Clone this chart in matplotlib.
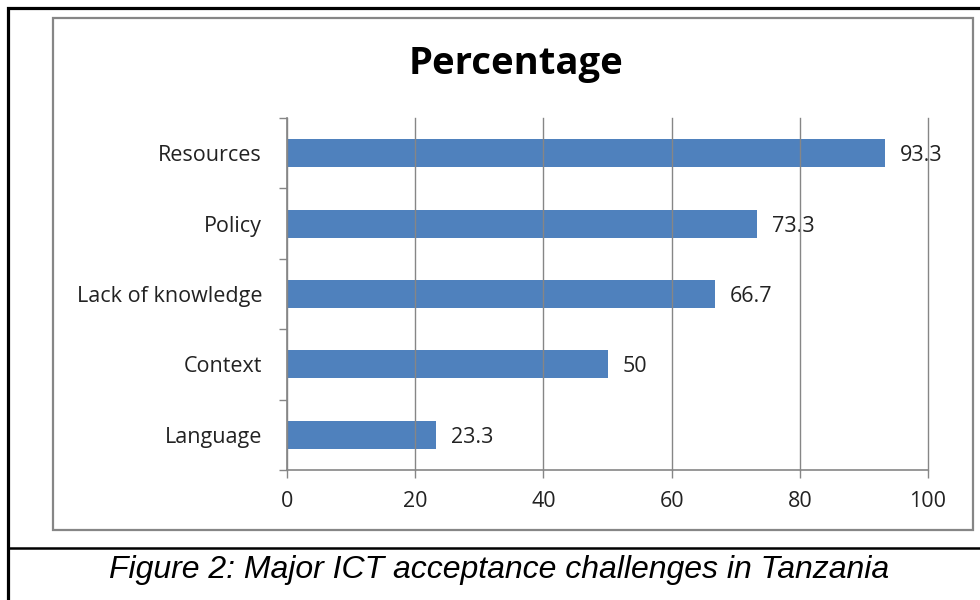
import matplotlib.pyplot as plt
from matplotlib.patches import Rectangle
from matplotlib.lines import Line2D

# Dados
categorias = ["Resources", "Policy", "Lack of knowledge", "Context", "Language"]
percentagens = [93.3, 73.3, 66.7, 50, 23.3]
rotulos = ["93.3", "73.3", "66.7", "50", "23.3"]
ticks_x = [0, 20, 40, 60, 80, 100]

AZUL = "#4F81BD"
CINZA = "#868686"
FONTE = "Open Sans"

fig = plt.figure(figsize=(9.8, 6), dpi=100)
W, H = 980, 600

# moldura exterior preta e linha da legenda
fig.add_artist(Rectangle((8 / W, -0.1), 1.1, 1 - 8 / H + 0.1,
                         transform=fig.transFigure, fill=False,
                         edgecolor="black", linewidth=2.3))
fig.add_artist(Line2D([8 / W, 1], [1 - 548 / H, 1 - 548 / H],
                      transform=fig.transFigure, color="black", linewidth=1.8))

# borda cinzenta da área do gráfico
fig.add_artist(Rectangle((53 / W, 1 - 530 / H), (973 - 53) / W, (530 - 18) / H,
                         transform=fig.transFigure, fill=False,
                         edgecolor=CINZA, linewidth=1.6))

ax = fig.add_axes([287 / W, 1 - 470 / H, (928 - 287) / W, (470 - 118) / H])

pos = list(range(len(categorias)))
ax.barh(pos, percentagens, height=0.4, color=AZUL, zorder=2)

for p, v, r in zip(pos, percentagens, rotulos):
    ax.text(v + 2.3, p, r, va="center_baseline", ha="left", fontsize=15.5,
            family=FONTE, color="#222222", zorder=1)

ax.set_xlim(0, 100)
ax.set_ylim(len(categorias) - 0.5, -0.5)
ax.set_xticks(ticks_x)
ax.set_xticklabels([str(t) for t in ticks_x], family=FONTE,
                   fontsize=15.5, color="#222222")
ax.set_yticks(pos)
ax.set_yticklabels(categorias, family=FONTE, fontsize=15.5, color="#222222")
ax.set_yticks([p - 0.5 for p in pos] + [len(pos) - 0.5], minor=True)

ax.tick_params(axis="y", which="major", length=0, pad=18)
ax.tick_params(axis="y", which="minor", length=6, width=1, color=CINZA)
ax.tick_params(axis="x", length=6, width=1, color=CINZA, pad=9)

ax.grid(True, axis="x", color=CINZA, linewidth=1, zorder=3)
for linha in ax.get_xgridlines():
    linha.set_clip_on(False)
ax.set_axisbelow(False)
for lado in ["top", "right"]:
    ax.spines[lado].set_visible(False)
for lado in ["left", "bottom"]:
    ax.spines[lado].set_color(CINZA)
    ax.spines[lado].set_linewidth(1.2)

fig.text(516 / W, 1 - 64 / H, "Percentage", ha="center", va="center",
         fontsize=27.5, fontweight="bold", family=FONTE)

fig.text(499 / W, 1 - 570 / H,
         "Figure 2: Major ICT acceptance challenges in Tanzania",
         ha="center", va="center", fontsize=23, style="italic",
         family="Liberation Sans")

fig.savefig("out.png", dpi=100)
